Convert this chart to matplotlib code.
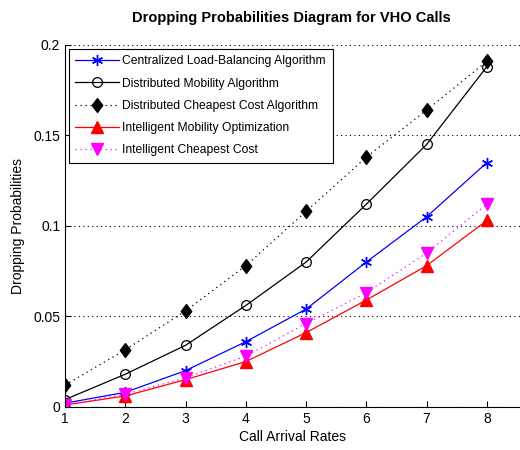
import matplotlib
matplotlib.use('Agg')
import matplotlib.pyplot as plt

rates = [1, 2, 3, 4, 5, 6, 7, 8]
centralized = [0.002, 0.008, 0.020, 0.036, 0.054, 0.080, 0.105, 0.135]
dist_mobility = [0.004, 0.018, 0.034, 0.056, 0.080, 0.112, 0.145, 0.188]
dist_cheapest = [0.012, 0.0315, 0.053, 0.078, 0.108, 0.138, 0.164, 0.191]
intel_mobility = [0.001, 0.006, 0.015, 0.025, 0.041, 0.059, 0.078, 0.103]
intel_cheapest = [0.001, 0.007, 0.016, 0.028, 0.046, 0.063, 0.085, 0.112]

plt.rcParams['font.family'] = ['Liberation Sans', 'DejaVu Sans']

# matlab-ish diamond, a bit taller than wide
diamond = [(0, 1), (0.75, 0), (0, -1), (-0.75, 0), (0, 1)]

fig = plt.figure(figsize=(5.2, 4.5), dpi=100)
ax = fig.add_axes([0.125, 0.096, 0.875, 0.804])

ax.plot(rates, centralized, color='blue', lw=0.9, marker=(6, 2, 0), ms=8,
        markeredgewidth=1.0, label='Centralized Load-Balancing Algorithm')
ax.plot(rates, dist_mobility, color='black', lw=0.9, marker='o', ms=7,
        mfc='none', markeredgewidth=0.9, label='Distributed Mobility Algorithm')
ax.plot(rates, dist_cheapest, color='black', lw=0.9, ls=(0, (1, 3)), marker=diamond, ms=10,
        label='Distributed Cheapest Cost Algorithm')
ax.plot(rates, intel_mobility, color='red', lw=0.9, marker='^', ms=8,
        label='Intelligent Mobility Optimization')
ax.plot(rates, intel_cheapest, color='magenta', lw=0.9, ls=(0, (1, 3)), marker='v', ms=8,
        label='Intelligent Cheapest Cost')

ax.set_xlim(1, 8.55)
ax.set_ylim(0, 0.2)
ax.set_xticks(rates)
ax.set_yticks([0, 0.05, 0.1, 0.15, 0.2])
ax.set_yticklabels(['0', '0.05', '0.1', '0.15', '0.2'])
ax.tick_params(direction='in', labelsize=10, length=4)
ax.yaxis.grid(True, ls=(0, (1, 3)), color='black', lw=0.8)
ax.spines['top'].set_visible(False)
ax.spines['right'].set_visible(False)

ax.set_xlabel('Call Arrival Rates', fontsize=10, labelpad=3)
ax.set_ylabel('Dropping Probabilities', fontsize=10, labelpad=6)
fig.text(0.56, 0.96, 'Dropping Probabilities Diagram for VHO Calls',
         ha='center', va='center', fontsize=10.5, fontweight='bold',
         family=['Liberation Sans Narrow', 'Liberation Sans'])

leg = ax.legend(loc='upper left', fontsize=8.7, fancybox=False, framealpha=1,
                edgecolor='black', borderaxespad=0.3, handlelength=3.6,
                handletextpad=0.3, labelspacing=0.85, borderpad=0.55)
leg.get_frame().set_linewidth(0.8)

fig.savefig('out.png', dpi=100)
